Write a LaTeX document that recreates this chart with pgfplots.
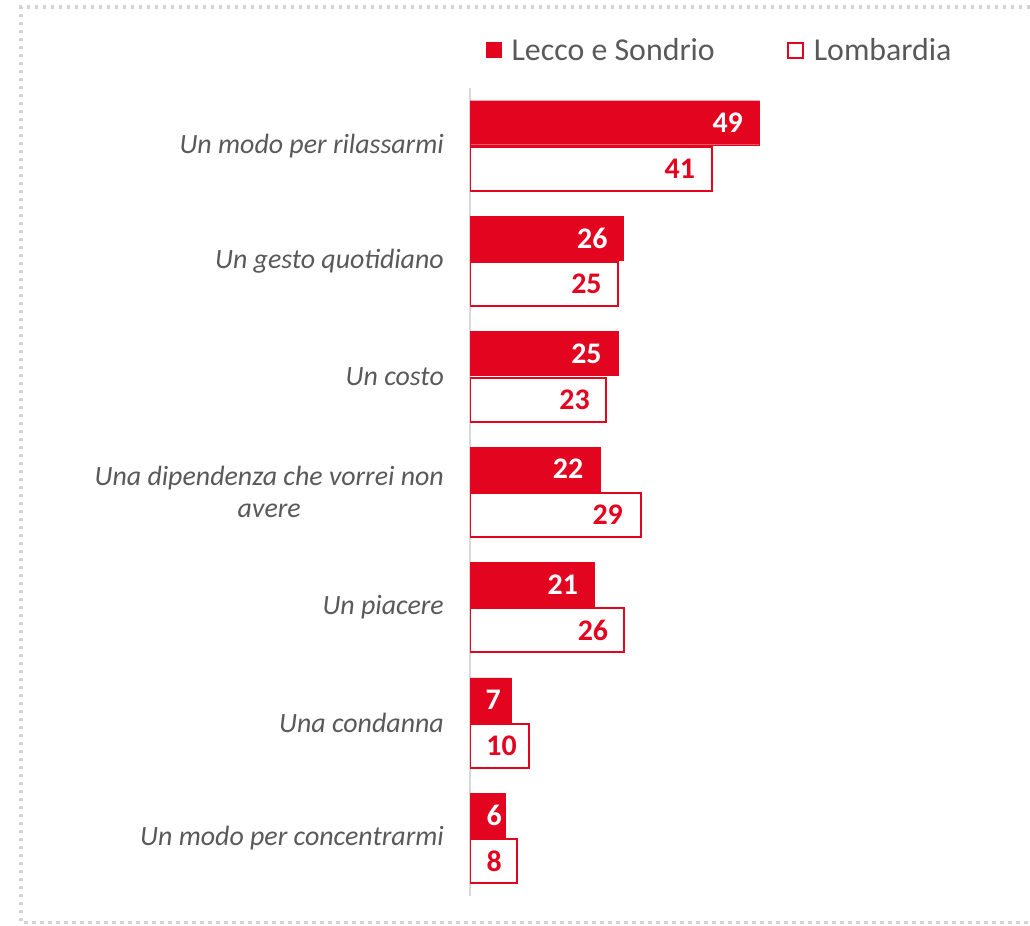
\documentclass[border=0pt]{standalone}
\usepackage{pgfplots}
\pgfplotsset{compat=1.18}
\usepackage{pgfplotstable}
\usepackage{fontspec}
\setmainfont{Carlito}
\definecolor{cred}{HTML}{E3051F}
\definecolor{ctext}{HTML}{595959}
\definecolor{caxis}{HTML}{D9D9D9}
\definecolor{cborder}{HTML}{D4D4D4}
\pgfplotstableread{
idx a b
0 49 41
1 26 25
2 25 23
3 22 29
4 21 26
5 7 10
6 6 8
}\data
\pgfplotstableread{
ya xa va yb xb vb
-0.2 46.2 49 0.2 38.1 41
0.8 23.3 26 1.2 22.3 25
1.8 22.3 25 2.2 20.3 23
2.8 19.2 22 3.2 25.9 29
3.8 18.3 21 4.2 23.4 26
4.8 5.25 7 5.2 7.95 10
5.8 5.4 6 6.2 5.4 8
}\labels
\begin{document}
\begin{tikzpicture}
\path[use as bounding box] (0,0) rectangle (1030bp,926bp);
\draw[cborder, line width=3.5bp, dash pattern=on 3.5bp off 4.5bp] (1030bp,919bp) -- (21bp,919bp) -- (21bp,3.3bp) -- (1030bp,3.3bp);
\begin{axis}[
  at={(470bp,30bp)}, anchor=south west,
  scale only axis, width=531.9bp, height=808bp,
  xmin=0, xmax=90, ymin=-0.5, ymax=6.5, y dir=reverse,
  axis x line=none, axis y line*=left,
  y axis line style={caxis, line width=1.5bp, -},
  xtick=\empty,
  ytick={0,1,2,3,4,5,6},
  yticklabels={Un modo per rilassarmi, Un gesto quotidiano, Un costo, {Una dipendenza che vorrei non\\avere}, Un piacere, Una condanna, Un modo per concentrarmi},
  major tick length=0pt,
  ytick style={draw=none},
  yticklabel style={align=center, inner sep=0pt, xshift=-26bp, text=ctext, font=\itshape\fontsize{28}{32}\selectfont},
  legend columns=2,
  legend style={at={(0.03,1.047)}, anchor=west, draw=none, fill=none, inner sep=0pt,
    font=\fontsize{32}{38}\selectfont, text=ctext,
    nodes={inner sep=0pt},
    /tikz/every even column/.append style={column sep=72bp}},
  legend image code/.code={\draw[#1] (0bp,-7.5bp) rectangle (15bp,7.5bp); \path (25bp,0bp);},
]
\addplot[xbar, bar width=44bp, bar shift=23bp, fill=cred, draw=cred, line width=0.4bp] table[x=a, y=idx] \data;
\addlegendentry{Lecco e Sondrio}
\addplot[xbar, bar width=44bp, bar shift=-23bp, fill=white, draw=cred, line width=2bp] table[x=b, y=idx] \data;
\addlegendentry{Lombardia}
\addplot[draw=none, forget plot, nodes near coords, point meta=explicit symbolic,
  nodes near coords style={anchor=east, inner sep=0pt, text=white, font=\bfseries\fontsize{30}{36}\selectfont}]
  table[x=xa, y=ya, meta=va] \labels;
\addplot[draw=none, forget plot, nodes near coords, point meta=explicit symbolic,
  nodes near coords style={anchor=east, inner sep=0pt, text=cred, font=\bfseries\fontsize{30}{36}\selectfont}]
  table[x=xb, y=yb, meta=vb] \labels;
\end{axis}
\end{tikzpicture}
\end{document}
